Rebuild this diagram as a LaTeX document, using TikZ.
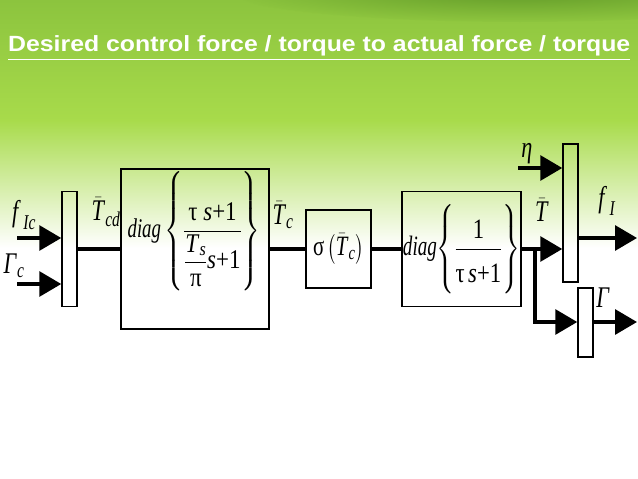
\documentclass[tikz,border=0pt]{standalone}
\usepackage{fontspec}
\usepackage{amsmath}
\usepackage{graphicx}
\setmainfont{Liberation Serif}
\newfontfamily\titlefont{Liberation Sans}
\definecolor{slidetop}{HTML}{8CC43E}
\definecolor{slidemid}{HTML}{A8DB4B}
\definecolor{slidedark}{HTML}{3C7616}
\usetikzlibrary{
  arrows.meta,
  positioning,
  calc,
}
% upright / italic serif letters inside math
\newcommand{\vi}[1]{\text{\textit{#1}}}
\newcommand{\vr}[1]{\text{#1}}
\newcommand{\narrow}[1]{\scalebox{0.74}[1]{#1}}

\begin{document}
\begin{tikzpicture}[
  x=1pt, y=-1pt,
  block/.style={
    draw=black, line width=1.5pt, inner sep=0pt,
    font=\fontsize{28}{34}\selectfont,
  },
  blocktext/.style={
    inner sep=0pt, font=\fontsize{27}{32}\selectfont,
  },
  muxbar/.style={
    draw=black, line width=1.5pt, minimum width=15pt,
  },
  link/.style={
    line width=3.2pt, color=black,
  },
  arrow/.style={
    -{Triangle[length=22pt, width=25pt]}, line width=3.2pt, color=black,
  },
  sig/.style={
    font=\fontsize{30}{36}\selectfont, inner sep=0pt,
  },
]
  \useasboundingbox (0,0) rectangle (638,479);

  % Slide background
  \fill[white] (0,0) rectangle (638,479);
  \shade[top color=slidetop, bottom color=slidemid] (0,0) rectangle (638,121);
  \shade[top color=slidemid, bottom color=white] (0,120) rectangle (638,248);
  \shade[inner color=slidedark, outer color=slidetop, opacity=0.5]
    (520,-8) ellipse [x radius=290, y radius=30];
  \node[anchor=base west, inner sep=0pt, text=white,
    font=\titlefont\bfseries\fontsize{22}{26}\selectfont] (title) at (8,52)
    {\resizebox{622pt}{\height}{\underline{Desired control force / torque to actual force / torque}}};

  % Blocks
  \node[muxbar, minimum height=115pt] (mux1) at (69.5,249) {};
  \node[block, minimum width=148pt, minimum height=160pt] (lead) at (195,249) {};
  \node[blocktext] (leadtf) at (194,231)
    {\scalebox{0.85}[1]{$\scalebox{0.82}[1]{\textit{diag}}\left\{\rule[-45pt]{0pt}{104pt}\dfrac{\vr{τ}\;\vi{s}\vr{+1}}{\rule{0pt}{30pt}\dfrac{\vi{T}_{\vi{s}}}{\vr{π}}\vi{s}\vr{+1}}\right\}$}};
  \node[block, minimum width=65pt, minimum height=78pt] (satur) at (338.5,249)
    {\narrow{$\vr{σ}\left(\bar{\vi{T}}_{\vi{c}}\right)$}};
  \node[block, minimum width=119pt, minimum height=115pt] (lag) at (461.5,249)
    {\scalebox{0.92}[1]{$\narrow{\textit{diag}}\scalebox{0.88}[1]{$\left\{\rule[-33pt]{0pt}{80pt}\dfrac{\vr{1}\rule[-6pt]{0pt}{6pt}}{\rule{0pt}{30pt}\vr{τ}\,\vi{s}\vr{+1}}\right\}$}$}};
  \node[muxbar, minimum height=138pt] (mux2) at (570.5,213) {};
  \node[muxbar, minimum height=69pt] (mux3) at (585.5,322.5) {};

  % Free ends
  \coordinate (fin) at (17,238);
  \coordinate (gin) at (17,284);
  \coordinate (etain) at (518,168);
  \coordinate (split) at (535,249);
  \coordinate (fout) at (637,238);
  \coordinate (gout) at (637,322);

  % Connections
  \draw[arrow] (fin) -- (fin -| mux1.west);
  \draw[arrow] (gin) -- (gin -| mux1.west);
  \draw[link] (mux1) -- (lead);
  \draw[link] (lead) -- (satur);
  \draw[link] (satur) -- (lag);
  \draw[arrow] (lag.east) -- (split -| mux2.west);
  \draw[arrow] (split) |- (gout -| mux3.west);
  \draw[arrow] (etain) -- (etain -| mux2.west);
  \draw[arrow] (fout -| mux2.east) -- (fout);
  \draw[arrow] (gout -| mux3.east) -- (gout);

  % Labels
  \node[sig] (lfic) at (24,215) {\narrow{$\vi{f}_{\,\vi{Ic}}$}};
  \node[sig] (lgc) at (14,266) {\narrow{$\vi{Γ}_{\vi{c}}$}};
  \node[sig] (ltcd) at (106,212) {\narrow{$\bar{\vi{T}}_{\vi{cd}}$}};
  \node[sig] (ltc) at (283,215) {\narrow{$\bar{\vi{T}}_{\vi{c}}$}};
  \node[sig] (leta) at (527,154) {\narrow{$\vi{η}$}};
  \node[sig] (lt) at (542,210) {\narrow{$\bar{\vi{T}}$}};
  \node[sig] (lfi) at (607,201) {\narrow{$\vi{f}_{\,\vi{I}}$}};
  \node[sig] (lg) at (603,298) {\narrow{$\vi{Γ}$}};
\end{tikzpicture}
\end{document}
